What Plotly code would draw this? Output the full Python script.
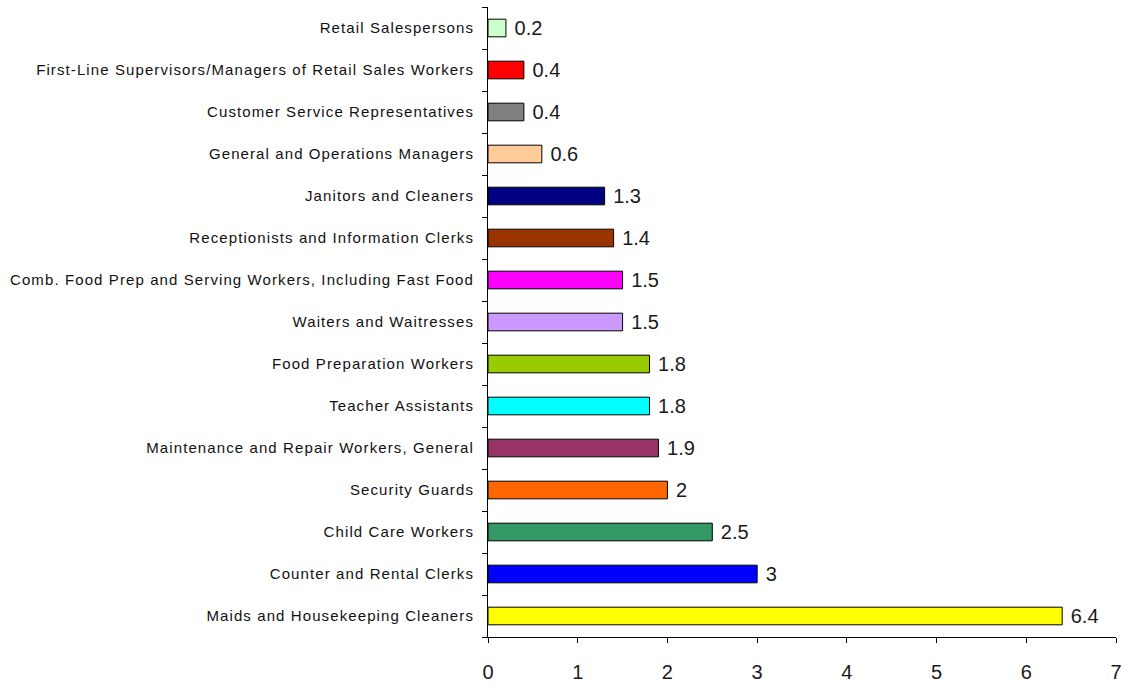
import plotly.graph_objects as go

categories = [
    "Maids and Housekeeping Cleaners",
    "Counter and Rental Clerks",
    "Child Care Workers",
    "Security Guards",
    "Maintenance and Repair Workers, General",
    "Teacher Assistants",
    "Food Preparation Workers",
    "Waiters and Waitresses",
    "Comb. Food Prep and Serving Workers, Including Fast Food",
    "Receptionists and Information Clerks",
    "Janitors and Cleaners",
    "General and Operations Managers",
    "Customer Service Representatives",
    "First-Line Supervisors/Managers of Retail Sales Workers",
    "Retail Salespersons",
]
values = [6.4, 3, 2.5, 2, 1.9, 1.8, 1.8, 1.5, 1.5, 1.4, 1.3, 0.6, 0.4, 0.4, 0.2]
colors = [
    "#FFFF00", "#0000FF", "#339966", "#FF6600", "#993366", "#00FFFF",
    "#99CC00", "#CC99FF", "#FF00FF", "#993300", "#000080", "#FFCC99",
    "#808080", "#FF0000", "#CCFFCC",
]
x_ticks = [0, 1, 2, 3, 4, 5, 6, 7]

tick_text = [f'<span style="letter-spacing:1.1px">{c}</span>' for c in categories]

fig = go.Figure(go.Bar(
    x=values,
    y=categories,
    orientation="h",
    marker=dict(color=colors, line=dict(color="#000000", width=1)),
    text=[f"\u00a0{v:g}" for v in values],
    textposition="outside",
    constraintext="none",
    textfont=dict(family="Liberation Sans, Arial", size=20, color="#1a1a1a"),
    cliponaxis=False,
    width=0.42,
))

fig.update_layout(
    width=1128,
    height=683,
    margin=dict(l=488, r=12, t=7, b=46),
    paper_bgcolor="white",
    plot_bgcolor="white",
    showlegend=False,
    font=dict(family="Liberation Sans, Arial", color="#000000"),
    xaxis=dict(
        range=[0, 7],
        tickvals=x_ticks,
        showline=True,
        linecolor="#000000",
        linewidth=1,
        ticks="outside",
        ticklen=5,
        tickcolor="#000000",
        showgrid=False,
        zeroline=False,
        automargin=False,
        ticklabelstandoff=12,
        tickfont=dict(family="Liberation Sans, Arial", size=20, color="#1a1a1a"),
        fixedrange=True,
    ),
    yaxis=dict(
        type="category",
        categoryorder="array",
        categoryarray=categories,
        tickvals=categories,
        ticktext=tick_text,
        range=[-0.5, 14.5],
        showline=True,
        linecolor="#000000",
        linewidth=1,
        ticks="outside",
        tickson="boundaries",
        ticklen=5,
        tickcolor="#000000",
        showgrid=False,
        automargin=False,
        ticklabelstandoff=10,
        tickfont=dict(family="Liberation Sans, Arial", size=15, color="#111111"),
        fixedrange=True,
    ),
)

fig.write_html("out.html")
